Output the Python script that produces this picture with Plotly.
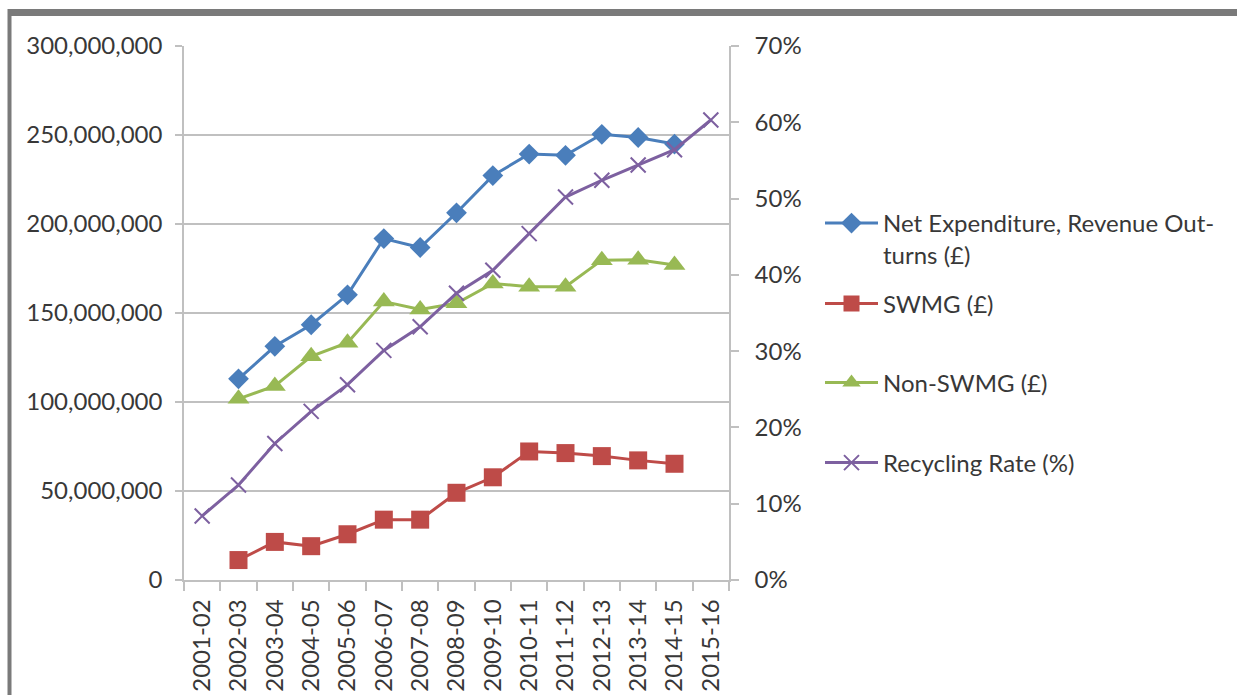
import plotly.graph_objects as go

years = ["2001-02", "2002-03", "2003-04", "2004-05", "2005-06", "2006-07", "2007-08",
         "2008-09", "2009-10", "2010-11", "2011-12", "2012-13", "2013-14", "2014-15", "2015-16"]

net_expenditure = [None, 113.0e6, 131.3e6, 143.4e6, 160.2e6, 191.8e6, 186.8e6, 206.3e6,
                   227.2e6, 239.3e6, 238.6e6, 250.4e6, 248.6e6, 244.9e6, None]
swmg = [None, 11.2e6, 21.4e6, 19.0e6, 25.7e6, 33.9e6, 33.9e6, 49.0e6,
        57.7e6, 72.2e6, 71.3e6, 69.6e6, 67.2e6, 65.3e6, None]
non_swmg = [None, 101.8e6, 109.0e6, 125.7e6, 133.3e6, 156.4e6, 152.0e6, 155.5e6,
            166.6e6, 164.8e6, 164.8e6, 179.7e6, 179.9e6, 177.0e6, None]
recycling_rate = [0.084, 0.1245, 0.179, 0.221, 0.256, 0.301, 0.332, 0.376,
                  0.406, 0.454, 0.502, 0.524, 0.544, 0.564, 0.603]

names = ["Net Expenditure, Revenue Out-<br>turns (£)", "SWMG (£)", "Non-SWMG (£)", "Recycling Rate (%)"]

BLUE = "#4A7EBB"
RED = "#BE4B48"
GREEN = "#98B954"
PURPLE = "#7D60A0"
TXT = "#383838"
GRID = "#C0C0C0"
FONT = "Lato"
FS = 24

fig = go.Figure()
fig.add_trace(go.Scatter(x=years, y=net_expenditure, name=names[0], mode="lines+markers",
                         line=dict(color=BLUE, width=3),
                         marker=dict(symbol="diamond", size=16, color=BLUE),
                         legend="legend"))
fig.add_trace(go.Scatter(x=years, y=swmg, name=names[1], mode="lines+markers",
                         line=dict(color=RED, width=3),
                         marker=dict(symbol="square", size=18, color=RED),
                         legend="legend2"))
fig.add_trace(go.Scatter(x=years, y=non_swmg, name=names[2], mode="lines+markers",
                         line=dict(color=GREEN, width=3),
                         marker=dict(symbol="triangle-up", size=19, color=GREEN),
                         legend="legend3"))
fig.add_trace(go.Scatter(x=years, y=recycling_rate, name=names[3], mode="lines+markers",
                         line=dict(color=PURPLE, width=3),
                         marker=dict(symbol="x-thin-open", size=15,
                                     line=dict(color=PURPLE, width=2)),
                         yaxis="y2", legend="legend4"))

W, H = 1237, 695
L, R, T, B = 184, 729, 46, 580


def px_x(x):
    return (x - L) / (R - L)


def px_y(y):
    return (B - y) / (B - T)


leg_common = dict(font=dict(family=FONT, size=FS, color=TXT), bgcolor="rgba(0,0,0,0)",
                  itemwidth=53, xanchor="left", yanchor="middle", valign="top",
                  itemclick=False, itemdoubleclick=False)

fig.update_layout(
    width=W, height=H,
    margin=dict(l=L, r=W - R, t=T, b=H - B, pad=0, autoexpand=False),
    paper_bgcolor="white", plot_bgcolor="white",
    font=dict(family=FONT, size=FS, color=TXT),
    showlegend=True,
    legend=dict(x=px_x(820), y=px_y(239), **leg_common),
    legend2=dict(x=px_x(820), y=px_y(304), **leg_common),
    legend3=dict(x=px_x(820), y=px_y(383), **leg_common),
    legend4=dict(x=px_x(820), y=px_y(463), **leg_common),
    xaxis=dict(type="category", range=[-0.5, 14.5], tickson="boundaries",
               ticks="outside", ticklen=9, tickcolor=GRID, tickwidth=1.5,
               showline=True, linecolor=GRID, linewidth=1.5, showgrid=False,
               tickangle=-90, tickfont=dict(family=FONT, size=FS, color=TXT),
               ticklabelstandoff=8, zeroline=False, automargin=False),
    yaxis=dict(range=[0, 300e6], dtick=50e6, tickformat=",", showgrid=True,
               gridcolor=GRID, gridwidth=1.5, showline=True, linecolor=GRID, linewidth=1.5,
               ticks="outside", ticklen=7, tickcolor=GRID, tickwidth=1.5,
               tickfont=dict(family=FONT, size=FS, color=TXT), ticklabelstandoff=8,
               zeroline=False, automargin=False),
    yaxis2=dict(range=[0, 0.7], dtick=0.1, tickformat=".0%", overlaying="y", side="right",
                showgrid=False, showline=True, linecolor=GRID, linewidth=1.5,
                ticks="outside", ticklen=8, tickcolor=GRID, tickwidth=1.5,
                tickfont=dict(family=FONT, size=FS, color=TXT), ticklabelstandoff=11,
                zeroline=False, automargin=False),
    shapes=[
        dict(type="line", xref="paper", yref="paper", x0=px_x(8), x1=px_x(W + 5),
             y0=px_y(12.5), y1=px_y(12.5), line=dict(color="#7A7A7A", width=7), layer="above"),
        dict(type="line", xref="paper", yref="paper", x0=px_x(9.5), x1=px_x(9.5),
             y0=px_y(9), y1=px_y(H + 5), line=dict(color="#7A7A7A", width=4), layer="above"),
    ],
)

fig.write_html("out.html", config={"displayModeBar": False},
               post_script="document.body.style.margin='0';document.body.style.padding='0';")
